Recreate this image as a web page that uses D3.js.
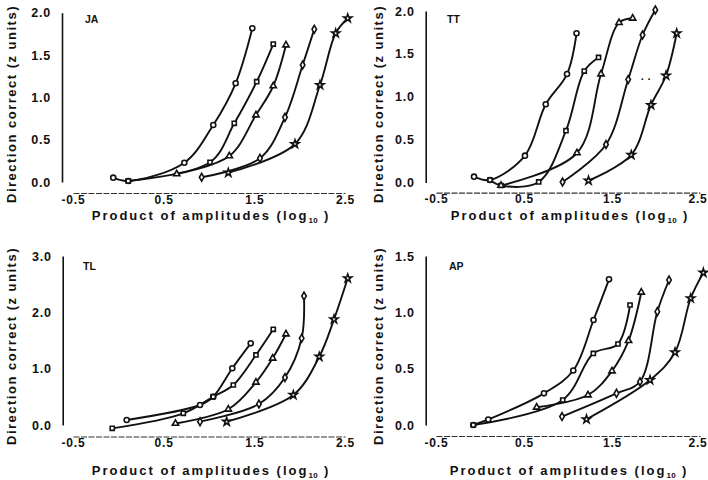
<!DOCTYPE html>
<html>
<head>
<meta charset="utf-8">
<script src="https://cdn.jsdelivr.net/npm/d3@7"></script>
<style>
  html, body { margin: 0; padding: 0; background: #fff; }
  svg { display: block; }
  text { font-family: "Liberation Sans", Arial, sans-serif; font-weight: bold; fill: #111; }
</style>
</head>
<body>
<svg id="chart" width="708" height="480"></svg>
<script>
// ---- Data: product of amplitudes (log10) vs. direction correct (z units) ----
const xTicks = [-0.5, 0.5, 1.5, 2.5];
const xTickLabels = ["-0.5", "0.5", "1.5", "2.5"];

const jaYTicks = [0, 0.5, 1.0, 1.5, 2.0];
const ttYTicks = [0, 0.5, 1.0, 1.5, 2.0];
const tlYTicks = [0, 1.0, 2.0, 3.0];
const apYTicks = [0, 0.5, 1.0, 1.5];

// Subject JA
const jaCircle  = [[-0.056, 0.051], [0.110, 0.012], [0.728, 0.228], [1.047, 0.673], [1.294, 1.166], [1.478, 1.816]];
const jaSquare  = [[0.110, 0.012], [1.011, 0.233], [1.279, 0.693], [1.526, 1.185], [1.709, 1.630]];
const jaTri     = [[0.644, 0.095], [1.224, 0.307], [1.518, 0.791], [1.709, 1.134], [1.849, 1.618]];
const jaDiamond = [[0.919, 0.056], [1.562, 0.280], [1.838, 0.764], [2.033, 1.382], [2.161, 1.804]];
const jaStar    = [[1.213, 0.110], [1.948, 0.449], [2.224, 1.146], [2.397, 1.757], [2.530, 1.934]];

// Subject TT
const ttCircle  = [[-0.068, 0.068], [0.114, 0.029], [0.511, 0.313], [0.747, 0.912], [0.989, 1.265], [1.097, 1.740]];
const ttSquare  = [[0.114, 0.029], [0.239, -0.035], [0.667, 0.006], [0.977, 0.604], [1.185, 1.300], [1.347, 1.458]];
const ttTri     = [[0.239, -0.035], [1.102, 0.344], [1.375, 1.265], [1.580, 1.864], [1.735, 1.915]];
const ttDiamond = [[0.938, 0.006], [1.432, 0.443], [1.684, 1.201], [1.847, 1.720], [1.992, 2.012]];
const ttStar    = [[1.233, 0.023], [1.719, 0.321], [1.943, 0.904], [2.114, 1.248], [2.235, 1.740]];
const ttNote    = [[1.886, 1.166]];

// Subject TL
const tlCircle  = [[0.092, 0.089], [0.901, 0.355], [1.047, 0.502], [1.257, 1.007], [1.460, 1.450]];
const tlSquare  = [[-0.067, -0.059], [0.717, 0.208], [1.047, 0.502], [1.268, 0.710], [1.518, 1.243], [1.709, 1.699]];
const tlTri     = [[0.630, 0.027], [1.213, 0.279], [1.518, 0.758], [1.702, 1.184], [1.849, 1.615]];
const tlDiamond = [[0.901, 0.059], [1.551, 0.373], [1.838, 0.843], [2.022, 1.539], [2.048, 2.290]];
const tlStar    = [[1.195, 0.059], [1.930, 0.533], [2.216, 1.212], [2.379, 1.876], [2.530, 2.604]];

// Subject AP
const apCircle  = [[-0.076, 0.000], [0.094, 0.049], [0.727, 0.281], [1.060, 0.484], [1.290, 0.932], [1.466, 1.293]];
const apSquare  = [[-0.076, 0.000], [0.940, 0.222], [1.288, 0.635], [1.568, 0.719], [1.705, 1.065]];
const apTri     = [[0.644, 0.157], [1.227, 0.266], [1.500, 0.479], [1.688, 0.748], [1.833, 1.178]];
const apDiamond = [[0.932, 0.075], [1.551, 0.281], [1.818, 0.384], [2.015, 1.006], [2.148, 1.287]];
const apStar    = [[1.210, 0.051], [1.932, 0.399], [2.216, 0.645], [2.394, 1.125], [2.538, 1.352]];

const markerTypes = [d3.symbolCircle, d3.symbolSquare, d3.symbolTriangle, d3.symbolDiamond, d3.symbolStar];
const markerSizes = [20, 17, 17, 18, 20];

// ---- Panel layout ----
const panels = [
  { title: "JA", series: [jaCircle, jaSquare, jaTri, jaDiamond, jaStar], yTicks: jaYTicks, yMax: 2,
    x0: 73, x1: 345, yBottom: 182, yTop: 12.7, axisX: 62, baseY: 193,
    titleX: 85, titleY: 23, yLabelX: 16, yLabelY: 104, xLabelX: 211, xLabelY: 220 },
  { title: "TT", series: [ttCircle, ttSquare, ttTri, ttDiamond, ttStar], yTicks: ttYTicks, yMax: 2,
    x0: 436, x1: 700, yBottom: 182.5, yTop: 11, axisX: 425.7, baseY: 192.7,
    titleX: 447, titleY: 23, yLabelX: 383, yLabelY: 104, xLabelX: 570, xLabelY: 220, note: ttNote },
  { title: "TL", series: [tlCircle, tlSquare, tlTri, tlDiamond, tlStar], yTicks: tlYTicks, yMax: 3,
    x0: 73, x1: 345, yBottom: 425, yTop: 256, axisX: 62.7, baseY: 436.5,
    titleX: 83, titleY: 270, yLabelX: 16, yLabelY: 346, xLabelX: 211, xLabelY: 475 },
  { title: "AP", series: [apCircle, apSquare, apTri, apDiamond, apStar], yTicks: apYTicks, yMax: 1.5,
    x0: 436, x1: 700, yBottom: 425, yTop: 256, axisX: 425.7, baseY: 436,
    titleX: 449, titleY: 270, yLabelX: 383, yLabelY: 346, xLabelX: 569, xLabelY: 475 }
];

const svg = d3.select("#chart");
const W = +svg.attr("width");

panels.forEach(p => {
  const x = d3.scaleLinear().domain([-0.5, 2.5]).range([p.x0, p.x1]);
  const y = d3.scaleLinear().domain([0, p.yMax]).range([p.yBottom, p.yTop]);
  const g = svg.append("g");

  // y axis: solid spine, labels only
  const yAxis = d3.axisLeft(y).tickValues(p.yTicks).tickFormat(d3.format(".1f"))
    .tickSizeInner(0).tickSizeOuter(0).tickPadding(11);
  const ya = g.append("g").attr("transform", `translate(${p.axisX},0)`).call(yAxis);
  ya.select(".domain").attr("stroke", "#111").attr("stroke-width", 1.6);
  ya.selectAll("text").style("font-size", "12.5px").style("letter-spacing", "0.8px")
    .attr("font-family", null).attr("fill", "#111");

  // x axis: dashed baseline, labels only
  const xAxis = d3.axisBottom(x).tickValues(xTicks).tickFormat((d, i) => xTickLabels[i])
    .tickSizeInner(0).tickSizeOuter(0).tickPadding(2);
  const xa = g.append("g").attr("transform", `translate(0,${p.baseY})`).call(xAxis);
  xa.select(".domain").attr("stroke", "#333").attr("stroke-width", 1.2).attr("stroke-dasharray", "6,1.5");
  xa.selectAll("text").style("font-size", "12px").style("letter-spacing", "0.8px")
    .attr("font-family", null).attr("fill", "#111");
  // keep the last tick label inside the page edge
  xa.selectAll(".tick").each(function(d) {
    const t = d3.select(this).select("text");
    const bb = this.getBBox();
    const right = x(d) + bb.x + bb.width;
    if (right > W - 1) t.attr("x", (W - 1) - right);
  });

  // panel title
  g.append("text").attr("x", p.titleX).attr("y", p.titleY).style("font-size", "10.5px")
    .text(p.title);

  // axis titles
  g.append("text")
    .attr("transform", `translate(${p.yLabelX},${p.yLabelY}) rotate(-90)`)
    .attr("text-anchor", "middle").style("font-size", "13px").style("letter-spacing", "1.5px")
    .text("Direction correct (z units)");

  const xl = g.append("text").attr("x", p.xLabelX).attr("y", p.xLabelY)
    .attr("text-anchor", "middle").style("font-size", "13px").style("letter-spacing", "2px");
  xl.append("tspan").text("Product of amplitudes (log");
  xl.append("tspan").attr("dy", 3).style("font-size", "8px").style("letter-spacing", "0.5px").text("10");
  xl.append("tspan").attr("dy", -3).text(" )");

  // curves
  const line = d3.line().x(d => x(d[0])).y(d => y(d[1])).curve(d3.curveCatmullRom.alpha(0.5));
  p.series.forEach(s => {
    g.append("path").datum(s).attr("d", line)
      .attr("fill", "none").attr("stroke", "#111").attr("stroke-width", 1.9);
  });
  p.series.forEach((s, i) => {
    g.selectAll(null).data(s).enter().append("path")
      .attr("transform", d => `translate(${x(d[0])},${y(d[1])})`)
      .attr("d", d3.symbol().type(markerTypes[i]).size(markerSizes[i]))
      .attr("fill", "#fff").attr("stroke", "#111").attr("stroke-width", 1.6);
  });

  if (p.note) {
    g.selectAll(null).data(p.note).enter().append("text")
      .attr("x", d => x(d[0])).attr("y", d => y(d[1]))
      .attr("text-anchor", "middle").style("font-size", "11px").text("· ·");
  }
});
</script>
</body>
</html>
